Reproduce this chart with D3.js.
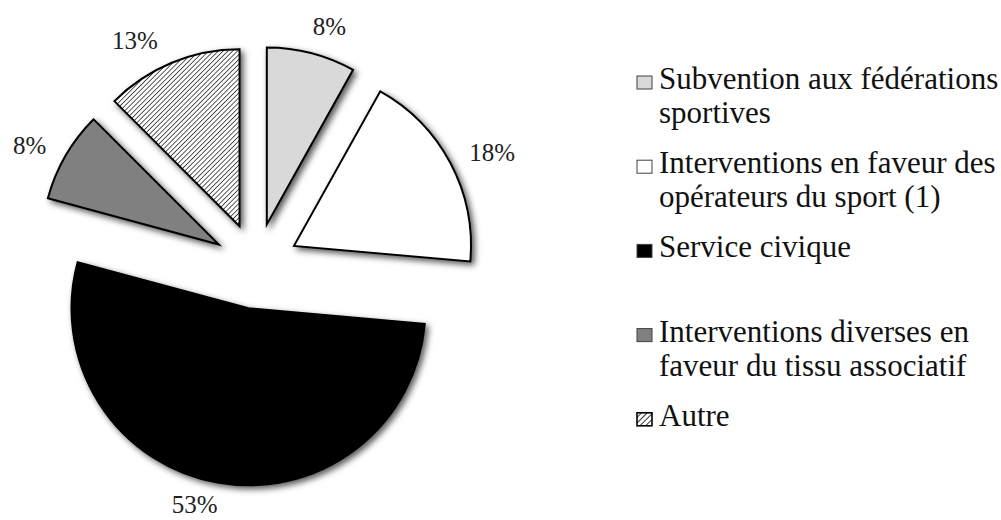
<!DOCTYPE html>
<html>
<head>
<meta charset="utf-8">
<script src="https://cdn.jsdelivr.net/npm/d3@7"></script>
<style>
  html, body { margin: 0; padding: 0; background: #ffffff; }
  svg { display: block; }
</style>
</head>
<body>
<svg id="chart" width="1001" height="520"></svg>
<script>
// ---- data ----
const categories = [
  "Subvention aux fédérations sportives",
  "Interventions en faveur des opérateurs du sport (1)",
  "Service civique",
  "Interventions diverses en faveur du tissu associatif",
  "Autre"
];
const values = [8.1, 18.3, 52.8, 8.3, 12.5];
const labels = ["8%", "18%", "53%", "8%", "13%"];
const legendLines = [
  ["Subvention aux fédérations", "sportives"],
  ["Interventions en faveur des", "opérateurs du sport (1)"],
  ["Service civique"],
  ["Interventions diverses en", "faveur du tissu associatif"],
  ["Autre"]
];
const fills = ["#d9d9d9", "#ffffff", "#000000", "#808080", "url(#hatch)"];

// ---- layout ----
const W = 1001, H = 520;
const cx = 256, cy = 266, R = 177, explode = 43, labelGap = 238;
// small best-fit angular nudges of the data labels (degrees), layout only
const labelNudgeDeg = [2.4, 2.1, 4.0, -1.9, -5.7];
const fontFam = "'Liberation Serif', 'Times New Roman', serif";
const labelSize = 25;

const svg = d3.select("#chart");
const defs = svg.append("defs");

const pat = defs.append("pattern")
  .attr("id", "hatch")
  .attr("patternUnits", "userSpaceOnUse")
  .attr("width", 3.4).attr("height", 3.4)
  .attr("patternTransform", "rotate(45)");
pat.append("rect").attr("width", 3.4).attr("height", 3.4).attr("fill", "#fff");
pat.append("line").attr("x1", 0).attr("y1", 0).attr("x2", 0).attr("y2", 3.4)
  .attr("stroke", "#000").attr("stroke-width", 1.3);

const patL = defs.append("pattern")
  .attr("id", "hatchL")
  .attr("patternUnits", "userSpaceOnUse")
  .attr("width", 4).attr("height", 4)
  .attr("patternTransform", "rotate(45)");
patL.append("rect").attr("width", 4).attr("height", 4).attr("fill", "#fff");
patL.append("line").attr("x1", 0).attr("y1", 0).attr("x2", 0).attr("y2", 4)
  .attr("stroke", "#000").attr("stroke-width", 1.6);

const filt = defs.append("filter").attr("id", "shadow")
  .attr("x", "-20%").attr("y", "-20%").attr("width", "140%").attr("height", "140%");
filt.append("feDropShadow").attr("dx", 3).attr("dy", 3).attr("stdDeviation", 3)
  .attr("flood-color", "#000").attr("flood-opacity", 0.65);

const pie = d3.pie().sort(null).value(d => d);
const arcs = pie(values);
const arc = d3.arc().innerRadius(0).outerRadius(R);
const mid = d => (d.startAngle + d.endAngle) / 2;

const g = svg.append("g").attr("transform", `translate(${cx},${cy})`);

g.selectAll("path.slice")
  .data(arcs)
  .join("path")
  .attr("class", "slice")
  .attr("transform", d => {
    const a = mid(d);
    return `translate(${explode * Math.sin(a)},${-explode * Math.cos(a)})`;
  })
  .attr("d", arc)
  .attr("fill", (d, i) => fills[i])
  .attr("stroke", "#000")
  .attr("stroke-width", 2)
  .attr("stroke-linejoin", "miter")
  .attr("filter", "url(#shadow)");

const lbl = g.selectAll("text.lbl")
  .data(arcs)
  .join("text")
  .attr("class", "lbl")
  .attr("dy", "0.35em")
  .attr("text-anchor", "middle")
  .attr("font-family", fontFam)
  .attr("font-size", labelSize)
  .attr("fill", "#222")
  .text((d, i) => labels[i]);

// keep the labels' full text box inside the canvas
const maxY = H - cy - labelSize * (0.35 + 0.23) - 1;
lbl.each(function (d, i) {
  const a = mid(d) + labelNudgeDeg[i] * Math.PI / 180;
  const w = this.getComputedTextLength();
  const h = labelSize * 0.68;
  const r = labelGap + Math.abs(Math.sin(a)) * w / 2 + Math.abs(Math.cos(a)) * h / 2;
  d3.select(this)
    .attr("x", r * Math.sin(a))
    .attr("y", Math.min(-r * Math.cos(a), maxY));
});

// ---- legend ----
const legX = 637, legTextX = 659, legY0 = 89, legStep = 84.2, lineH = 34.3;
const leg = svg.append("g");
const entries = leg.selectAll("g.entry")
  .data(legendLines)
  .join("g")
  .attr("class", "entry")
  .attr("transform", (d, i) => `translate(0,${legY0 + i * legStep})`);

entries.append("rect")
  .attr("x", legX).attr("y", -13)
  .attr("width", 15).attr("height", 13)
  .attr("fill", (d, i) => i === 4 ? "url(#hatchL)" : fills[i])
  .attr("stroke", (d, i) => i === 4 ? "#000" : "#404040")
  .attr("stroke-width", (d, i) => i === 4 ? 1.6 : 1);

entries.append("text")
  .attr("x", legTextX)
  .attr("font-family", fontFam)
  .attr("font-size", 31)
  .attr("fill", "#111")
  .selectAll("tspan")
  .data(d => d)
  .join("tspan")
  .attr("x", legTextX)
  .attr("y", (d, j) => j * lineH)
  .text(d => d);
</script>
</body>
</html>
